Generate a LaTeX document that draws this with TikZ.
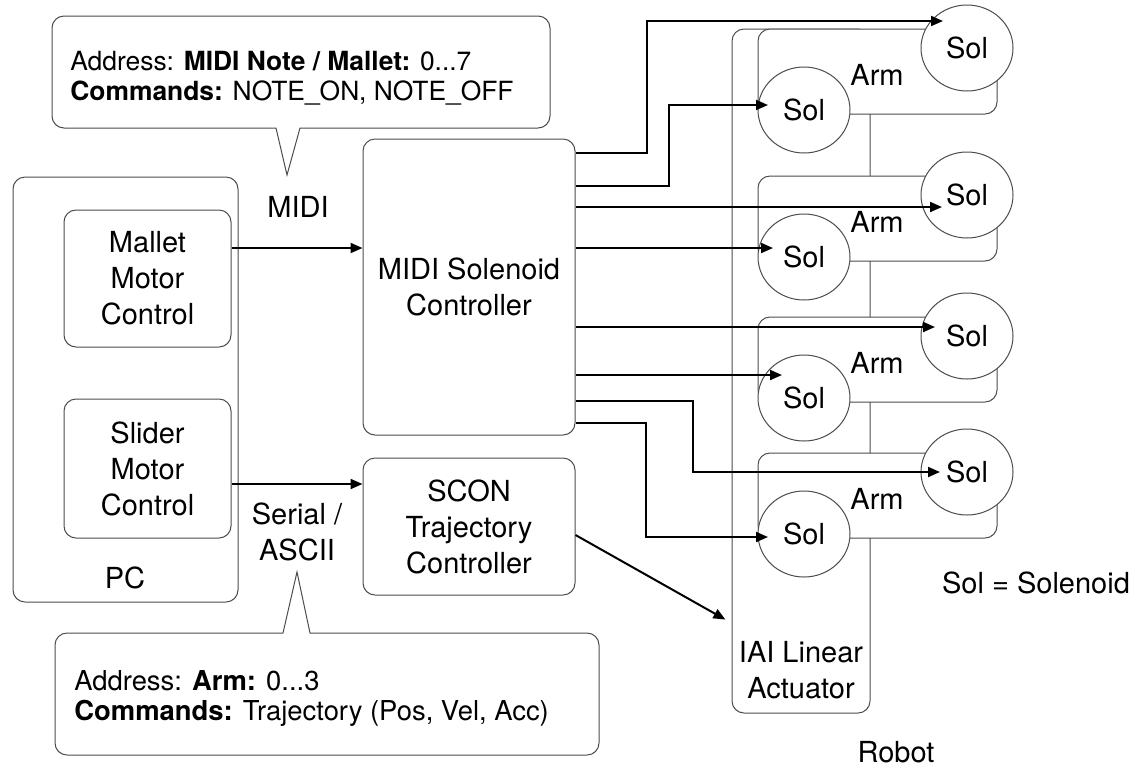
\documentclass[tikz,border=0pt]{standalone}
\usepackage{fontspec}
\setmainfont{TeX Gyre Heros}
\usetikzlibrary{shapes.geometric, arrows.meta}

\begin{document}
\begin{tikzpicture}[
  x=0.5pt, y=0.5pt,
  font=\fontsize{14.5}{18}\selectfont,
  box/.style={rectangle, rounded corners=6pt, draw=black!70, line width=0.5pt, align=center, inner sep=0pt},
  armbox/.style={rectangle, rounded corners=6pt, draw=black!70, line width=0.5pt, fill=white, minimum width=119.5pt, minimum height=42.5pt},
  sol/.style={ellipse, draw=black!70, line width=0.5pt, fill=white, minimum width=46pt, minimum height=43pt, inner sep=0pt},
  callout/.style={draw=black!70, line width=0.5pt},
  lbl/.style={align=center, inner sep=0pt},
  info/.style={align=left, anchor=west, inner sep=0pt},
  arr/.style={-{Triangle[length=6pt, width=5pt]}, line width=1pt}
]
\useasboundingbox (0,0) rectangle (1140,-767);

% -------------------------
% PC
% -------------------------
\node[box, minimum width=112.5pt, minimum height=212.5pt] (pc) at (125.5,-389.5) {};
\node[lbl] (pclabel) at (125,-578) {PC};
\node[box, minimum width=83.5pt, minimum height=68.5pt] (mallet) at (147.5,-278.5) {Mallet\\Motor\\Control};
\node[box, minimum width=83.5pt, minimum height=69.5pt] (slider) at (147.5,-468.5) {Slider\\Motor\\Control};

% -------------------------
% CONTROLLERS
% -------------------------
\node[box, minimum width=106pt, minimum height=148pt] (midictl) at (469,-287) {MIDI Solenoid\\Controller};
\node[box, minimum width=106pt, minimum height=68.5pt] (scon) at (469,-526.5) {SCON\\Trajectory\\Controller};

\node[lbl] (midilabel) at (298,-207) {MIDI};
\node[lbl] (seriallabel) at (297,-531.5) {Serial /\\ASCII};

% Callouts
\node[info, font=\fontsize{13.2}{15}\selectfont] (midiinfo) at (70,-78) {Address: \textbf{MIDI Note / Mallet:} 0...7\\\textbf{Commands:} NOTE\_ON, NOTE\_OFF};
\draw[callout] (287,-175) -- (300,-128) -- (420,-128) [rounded corners=6pt] -- (550,-128) -- (550,-16) -- (52,-16) -- (52,-128) -- (150,-128) [sharp corners] -- (276,-128) -- cycle;

\node[info, font=\fontsize{13.7}{15}\selectfont] (serialinfo) at (74,-698) {Address: \textbf{Arm:} 0...3\\\textbf{Commands:} Trajectory (Pos, Vel, Acc)};
\draw[callout] (297,-572) -- (310,-633) -- (450,-633) [rounded corners=6pt] -- (599,-633) -- (599,-755) -- (55,-755) -- (55,-633) -- (150,-633) [sharp corners] -- (283,-633) -- cycle;

% -------------------------
% ROBOT
% -------------------------
\node[box, minimum width=69pt, minimum height=342pt] (iai) at (801,-371) {};
\node[lbl] (iailabel) at (801,-670) {IAI Linear\\Actuator};

\foreach \t/\i in {29/1, 176/2, 317/3, 453/4} {
  \node[armbox] (arm\i) at (877.5,-\t-42.5) {};
  \node[lbl] (armlabel\i) at (877,-\t-46) {Arm};
  \node[sol] (solt\i) at (967,-\t-19) {Sol};
  \node[sol] (soll\i) at (804,-\t-81) {Sol};
}

\node[lbl] (robotlabel) at (896,-752) {Robot};
\node[lbl] (legend) at (1036,-583) {Sol = Solenoid};

% -------------------------
% CONNECTIONS
% -------------------------
\draw[arr] (mallet.east |- 0,-248) -- (midictl.west |- 0,-248);
\draw[arr] (slider.east |- 0,-484) -- (scon.west |- 0,-484);
\draw[arr, shorten >=3.5pt] (scon.east |- 0,-535) -- (iai.west |- 0,-623);

\draw[arr] (midictl.east |- 0,-153) -| (647,-21) -- ([shift={(-24,27)}]solt1.center);
\draw[arr] (midictl.east |- 0,-186) -| (669,-105) -- ([shift={(-36,5)}]soll1.center);
\draw[arr] (midictl.east |- 0,-207) -- ([shift={(-25,-12)}]solt2.center);
\draw[arr] (midictl.east |- 0,-248) -- ([shift={(-31,9)}]soll2.center);
\draw[arr] (midictl.east |- 0,-327) -- ([shift={(-32,9)}]solt3.center);
\draw[arr] (midictl.east |- 0,-375) -- ([shift={(-22,23)}]soll3.center);
\draw[arr] (midictl.east |- 0,-401) -| (693,-472) -- ([shift={(-27,0)}]solt4.center);
\draw[arr] (midictl.east |- 0,-423) -| (646,-537) -- ([shift={(-36,-3)}]soll4.center);

\end{tikzpicture}
\end{document}
